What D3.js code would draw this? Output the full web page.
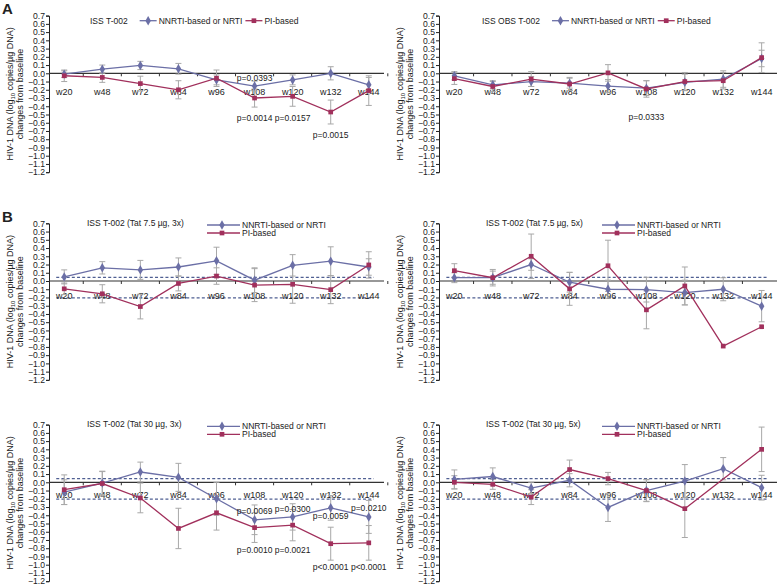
<!DOCTYPE html>
<html>
<head>
<meta charset="utf-8">
<script src="https://cdn.jsdelivr.net/npm/d3@7"></script>
<style>
  body { margin: 0; background: #fff; }
  text { font-family: "Liberation Sans", Arial, sans-serif; fill: #222; }
</style>
</head>
<body>
<svg id="chart" width="778" height="586"></svg>
<script>
// categories and tick labels
const weeks = ['w20', 'w48', 'w72', 'w84', 'w96', 'w108', 'w120', 'w132', 'w144'];
const yTickValues = [0.7, 0.6, 0.5, 0.4, 0.3, 0.2, 0.1, 0.0, -0.1, -0.2, -0.3, -0.4, -0.5, -0.6, -0.7, -0.8, -0.9, -1.0, -1.1, -1.2];
const seriesNames = ['NNRTI-based or NRTI', 'PI-based'];
const bThresholds = [0.045, -0.205];

// A left: ISS T-002
const aLeftNnrti    = [-0.01, 0.05, 0.095, 0.055, -0.08, -0.155, -0.08, 0.0, -0.14];
const aLeftNnrtiErr = [0.04, 0.05, 0.05, 0.065, 0.06, 0.06, 0.06, 0.08, 0.09];
const aLeftPi       = [-0.03, -0.05, -0.125, -0.2, -0.06, -0.3, -0.28, -0.47, -0.21];
const aLeftPiErr    = [0.07, 0.06, 0.09, 0.11, 0.1, 0.11, 0.12, 0.145, 0.18];
const aLeftP = [['w108', -0.093, 'p=0.0393'], ['w108', -0.577, 'p=0.0014'], ['w120', -0.577, 'p=0.0157'], ['w132', -0.78, 'p=0.0015']];

// A right: ISS OBS T-002
const aRightNnrti    = [-0.03, -0.14, -0.1, -0.12, -0.155, -0.18, -0.11, -0.07, 0.18];
const aRightNnrtiErr = [0.05, 0.05, 0.06, 0.06, 0.08, 0.09, 0.1, 0.1, 0.1];
const aRightPi       = [-0.065, -0.16, -0.07, -0.13, 0.005, -0.19, -0.1, -0.09, 0.19];
const aRightPiErr    = [0.07, 0.06, 0.09, 0.08, 0.1, 0.1, 0.11, 0.1, 0.18];
const aRightP = [['w108', -0.565, 'p=0.0333']];

// B: ISS T-002 (Tat 7.5 µg, 3x)
const b1Nnrti    = [0.05, 0.16, 0.135, 0.17, 0.245, 0.01, 0.19, 0.24, 0.17];
const b1NnrtiErr = [0.085, 0.075, 0.115, 0.11, 0.165, 0.15, 0.13, 0.175, 0.1];
const b1Pi       = [-0.095, -0.155, -0.31, -0.03, 0.06, -0.05, -0.04, -0.105, 0.195];
const b1PiErr    = [0.07, 0.11, 0.15, 0.09, 0.1, 0.2, 0.23, 0.17, 0.16];

// B: ISS T-002 (Tat 7.5 µg, 5x)
const b2Nnrti    = [0.04, 0.04, 0.2, -0.015, -0.1, -0.105, -0.14, -0.1, -0.305];
const b2NnrtiErr = [0.06, 0.1, 0.07, 0.12, 0.11, 0.15, 0.15, 0.14, 0.19];
const b2Pi       = [0.125, 0.04, 0.3, -0.095, 0.185, -0.35, -0.06, -0.79, -0.555];
const b2PiErr    = [0.085, 0.08, 0.27, 0.2, 0.31, 0.23, 0.23, 0, 0];

// B: ISS T-002 (Tat 30 µg, 3x)
const b3Nnrti    = [-0.12, -0.01, 0.125, 0.06, -0.2, -0.455, -0.42, -0.31, -0.42];
const b3NnrtiErr = [0.15, 0.14, 0.12, 0.17, 0.2, 0.18, 0.16, 0.15, 0.2];
const b3Pi       = [-0.09, -0.015, -0.19, -0.56, -0.37, -0.55, -0.52, -0.745, -0.735];
const b3PiErr    = [0.18, 0.15, 0.18, 0.245, 0.21, 0.18, 0.19, 0.2, 0.21];
const b3P = [['w108', -0.383, 'p=0.0069'], ['w120', -0.36, 'p=0.0300'], ['w132', -0.444, 'p=0.0059'], ['w144', -0.347, 'p=0.0210'],
             ['w108', -0.855, 'p=0.0010'], ['w120', -0.855, 'p=0.0021'], ['w132', -1.06, 'p<0.0001'], ['w144', -1.06, 'p<0.0001']];

// B: ISS T-002 (Tat 30 µg, 5x)
const b4Nnrti    = [0.035, 0.07, -0.07, 0.025, -0.305, -0.1, 0.015, 0.165, -0.065];
const b4NnrtiErr = [0.115, 0.105, 0.07, 0.08, 0.17, 0.135, 0.2, 0.135, 0.15];
const b4Pi       = [0.0, -0.025, -0.18, 0.155, 0.045, -0.1, -0.32, null, 0.4];
const b4PiErr    = [0.08, 0.06, 0.09, 0.115, 0.075, 0.13, 0.35, 0, 0.27];

const panels = [
  {row: 0, col: 0, tag: 'A', title: 'ISS T-002', nn: aLeftNnrti, nnErr: aLeftNnrtiErr, pi: aLeftPi, piErr: aLeftPiErr, pvals: aLeftP},
  {row: 0, col: 1, title: 'ISS OBS T-002', nn: aRightNnrti, nnErr: aRightNnrtiErr, pi: aRightPi, piErr: aRightPiErr, pvals: aRightP},
  {row: 1, col: 0, tag: 'B', title: 'ISS T-002 (Tat 7.5 \u00b5g, 3x)', nn: b1Nnrti, nnErr: b1NnrtiErr, pi: b1Pi, piErr: b1PiErr, pvals: []},
  {row: 1, col: 1, title: 'ISS T-002 (Tat 7.5 \u00b5g, 5x)', nn: b2Nnrti, nnErr: b2NnrtiErr, pi: b2Pi, piErr: b2PiErr, pvals: []},
  {row: 2, col: 0, title: 'ISS T-002 (Tat 30 \u00b5g, 3x)', nn: b3Nnrti, nnErr: b3NnrtiErr, pi: b3Pi, piErr: b3PiErr, pvals: b3P},
  {row: 2, col: 1, title: 'ISS T-002 (Tat 30 \u00b5g, 5x)', nn: b4Nnrti, nnErr: b4NnrtiErr, pi: b4Pi, piErr: b4PiErr, pvals: []}
];

// layout
const rowZero = [73.3, 281, 482.3];
const rowLabelGap = [22, 18, 15.5];
const colAxis = [49, 439];
const colEnd = [384, 777];
const unitPx = 82.4;
const nnColor = '#6b6fa6';
const piColor = '#a1305c';
const errColor = '#a8a8a8';

const svg = d3.select('#chart');

function drawPanel(p) {
  const zero = rowZero[p.row];
  const ax = colAxis[p.col];
  const g = svg.append('g');

  const x = d3.scalePoint().domain(weeks).range([ax, colEnd[p.col]]).padding(0.4);
  const y = d3.scaleLinear().domain([-1.2, 0.7]).range([zero + 1.2 * unitPx, zero - 0.7 * unitPx]);

  // y axis
  const yAxis = d3.axisLeft(y).tickValues(yTickValues).tickSize(3).tickFormat(d3.format('.1f'));
  const ya = g.append('g').attr('transform', `translate(${ax},0)`).call(yAxis);
  ya.select('.domain').attr('stroke', '#222');
  ya.selectAll('.tick line').attr('stroke', '#222');
  ya.selectAll('.tick text').attr('font-size', 8.6).attr('x', -4).attr('fill', '#222')
    .attr('font-family', '"Liberation Sans", Arial, sans-serif');

  // y title
  const cy = (y(0.7) + y(-1.2)) / 2;
  const yt = g.append('text').attr('transform', `translate(${ax - 36},${cy}) rotate(-90)`)
    .attr('text-anchor', 'middle').attr('font-size', 9);
  yt.append('tspan').text('HIV-1 DNA (log');
  yt.append('tspan').attr('font-size', 6).attr('dy', 2).text('10');
  yt.append('tspan').attr('dy', -2).text(' copies/\u00b5g DNA)');
  g.append('text').attr('transform', `translate(${ax - 26},${cy}) rotate(-90)`)
    .attr('text-anchor', 'middle').attr('font-size', 9).text('changes from baseline');

  // dashed thresholds (B panels)
  if (p.row > 0) {
    bThresholds.forEach(t => {
      g.append('line')
        .attr('x1', x(weeks[0]) - 8).attr('x2', x(weeks[weeks.length - 1]) + 5)
        .attr('y1', y(t)).attr('y2', y(t))
        .attr('stroke', '#4f5f92').attr('stroke-width', 1.2).attr('stroke-dasharray', '3,2.2');
    });
  }

  // zero line with ticks at category boundaries
  g.append('line').attr('x1', ax).attr('x2', colEnd[p.col]).attr('y1', y(0)).attr('y2', y(0))
    .attr('stroke', '#333').attr('stroke-width', 1.2);
  const step = x.step();
  const bounds = weeks.map(w => x(w) + step / 2);
  g.selectAll('.xt').data(bounds).enter().append('line')
    .attr('x1', d => d).attr('x2', d => d).attr('y1', y(0)).attr('y2', y(0) + 3)
    .attr('stroke', '#333');

  // category labels
  g.selectAll('.wl').data(weeks).enter().append('text')
    .attr('x', d => x(d)).attr('y', y(0) + rowLabelGap[p.row])
    .attr('text-anchor', 'middle').attr('font-size', 9).text(d => d);

  const series = [
    {vals: p.nn, err: p.nnErr, color: nnColor, sym: d3.symbolDiamond, size: 26},
    {vals: p.pi, err: p.piErr, color: piColor, sym: d3.symbolSquare, size: 22}
  ];

  // error bars
  series.forEach(s => {
    const pts = weeks.map((w, i) => ({w, v: s.vals[i], e: s.err[i]})).filter(d => d.v !== null && d.e > 0);
    const eb = g.append('g').attr('stroke', errColor).attr('stroke-width', 1);
    eb.selectAll('.v').data(pts).enter().append('line')
      .attr('x1', d => x(d.w)).attr('x2', d => x(d.w))
      .attr('y1', d => y(d.v + d.e)).attr('y2', d => y(d.v - d.e));
    eb.selectAll('.t').data(pts).enter().append('line')
      .attr('x1', d => x(d.w) - 3).attr('x2', d => x(d.w) + 3)
      .attr('y1', d => y(d.v + d.e)).attr('y2', d => y(d.v + d.e));
    eb.selectAll('.b').data(pts).enter().append('line')
      .attr('x1', d => x(d.w) - 3).attr('x2', d => x(d.w) + 3)
      .attr('y1', d => y(d.v - d.e)).attr('y2', d => y(d.v - d.e));
  });

  // lines + markers
  const line = d3.line().x(d => x(d.w)).y(d => y(d.v));
  series.forEach(s => {
    const pts = weeks.map((w, i) => ({w, v: s.vals[i]})).filter(d => d.v !== null);
    g.append('path').datum(pts).attr('d', line)
      .attr('fill', 'none').attr('stroke', s.color).attr('stroke-width', 1.3);
    g.selectAll(null).data(pts).enter().append('path')
      .attr('transform', d => `translate(${x(d.w)},${y(d.v)})`)
      .attr('d', d3.symbol().type(s.sym).size(s.size))
      .attr('fill', s.color);
  });

  // p-values
  g.selectAll('.pv').data(p.pvals).enter().append('text')
    .attr('x', d => x(d[0])).attr('y', d => y(d[1]))
    .attr('text-anchor', 'middle').attr('font-size', 8.5).text(d => d[2]);

  // title and legend
  if (p.row === 0) {
    const tx = ax + (p.col === 0 ? 41 : 43);
    const ly = zero - 52.6;
    const t = g.append('text').attr('x', tx).attr('y', ly + 3).attr('font-size', 8.5).text(p.title);
    let cx = tx + t.node().getComputedTextLength() + 12;
    series.forEach((s, i) => {
      g.append('line').attr('x1', cx).attr('x2', cx + 17).attr('y1', ly).attr('y2', ly)
        .attr('stroke', s.color).attr('stroke-width', 1.3);
      g.append('path').attr('transform', `translate(${cx + 8.5},${ly})`)
        .attr('d', d3.symbol().type(s.sym).size(s.size)).attr('fill', s.color);
      const lt = g.append('text').attr('x', cx + 19).attr('y', ly + 3).attr('font-size', 8.5).text(seriesNames[i]);
      cx = cx + 19 + lt.node().getComputedTextLength() + 3;
    });
  } else {
    const tx = ax + (p.col === 0 ? 38 : 47);
    g.append('text').attr('x', tx).attr('y', zero - 55.5).attr('font-size', 8.5).text(p.title);
    const lx = ax + (p.col === 0 ? 158 : 163);
    series.forEach((s, i) => {
      const ly = zero - 56 + i * 8;
      g.append('line').attr('x1', lx).attr('x2', lx + 33).attr('y1', ly).attr('y2', ly)
        .attr('stroke', s.color).attr('stroke-width', 1.3);
      g.append('path').attr('transform', `translate(${lx + 15},${ly})`)
        .attr('d', d3.symbol().type(s.sym).size(s.size)).attr('fill', s.color);
      g.append('text').attr('x', lx + 35).attr('y', ly + 3).attr('font-size', 8.5).text(seriesNames[i]);
    });
  }

  if (p.tag) {
    g.append('text').attr('x', 2).attr('y', zero - (p.row === 0 ? 59.5 : 59))
      .attr('font-size', 15).attr('font-weight', 'bold').attr('fill', '#111').text(p.tag);
  }
}

panels.forEach(drawPanel);
</script>
</body>
</html>
